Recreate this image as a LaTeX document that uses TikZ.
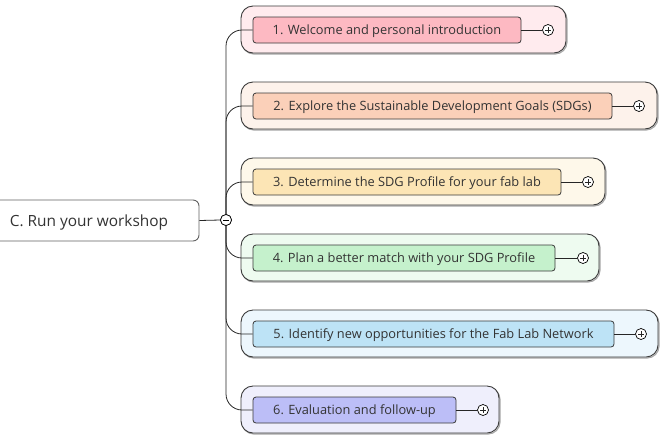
\documentclass[tikz,border=0pt]{standalone}
\usepackage{fontspec}
\setmainfont{Open Sans}
\definecolor{txt}{HTML}{333333}
\definecolor{edge}{HTML}{3A3A3A}
\definecolor{iA}{HTML}{FDB9C2}\definecolor{oA}{HTML}{FFEBEE}
\definecolor{iB}{HTML}{FBD0B9}\definecolor{oB}{HTML}{FDF2EB}
\definecolor{iC}{HTML}{FCE5B5}\definecolor{oC}{HTML}{FEF8EA}
\definecolor{iD}{HTML}{C5F1CC}\definecolor{oD}{HTML}{EEFBF0}
\definecolor{iE}{HTML}{BDE3F6}\definecolor{oE}{HTML}{EDF7FD}
\definecolor{iF}{HTML}{BCBEF7}\definecolor{oF}{HTML}{EFEFFC}
\begin{document}
\begin{tikzpicture}[x=1pt,y=-1pt,
  outerbox/.style={draw=edge, line width=0.9pt, rounded corners=12pt, inner sep=0pt, minimum height=47pt},
  innerbox/.style={draw=edge, line width=0.8pt, rounded corners=3pt, minimum height=26pt, inner sep=0pt,
    text height=12pt, text depth=3pt,
    font=\fontsize{12.8}{15}\selectfont, text=txt},
  rootbox/.style={draw=edge!80, fill=white, line width=0.9pt, rounded corners=6pt, minimum height=41pt, minimum width=220pt,
    inner sep=0pt, text height=15pt, text depth=4pt, font=\fontsize{15.4}{18}\selectfont, text=txt},
  knob/.style={circle, draw=black, fill=white, line width=0.7pt, minimum size=11pt, inner sep=0pt},
  conn/.style={draw=black!85, line width=0.8pt},
  shadowline/.style={draw=black!35, line width=1.2pt, rounded corners=12pt}]
\useasboundingbox (0,0) rectangle (663,440);

% root
\node[rootbox] (root) at (89,220.5) {C. Run your workshop};
\node[knob] (hub) at (226,220) {};

% groups: outer frames
\foreach \n/\r/\oc/\yy in {1/566/oA/29.5, 2/657/oB/105.5, 3/605/oC/181.5, 4/599/oD/257.5, 5/658/oE/333.5, 6/499/oF/409.5}{
  \draw[shadowline] (242,{\yy-22}) rectangle ({\r+1},{\yy+24.5});
  \node[outerbox, fill=\oc, minimum width={(\r-241)*1pt}] (outer\n) at ({(241+\r)/2},\yy) {};
}

% inner topic boxes
\node[innerbox, fill=iA, minimum width=268pt] (t1) at (387,30) {1. Welcome and personal introduction};
\node[innerbox, fill=iB, minimum width=359pt] (t2) at (432.5,106) {2. Explore the Sustainable Development Goals (SDGs)};
\node[innerbox, fill=iC, minimum width=308pt] (t3) at (407,182) {3. Determine the SDG Profile for your fab lab};
\node[innerbox, fill=iD, minimum width=302pt] (t4) at (404,258) {4. Plan a better match with your SDG Profile};
\node[innerbox, fill=iE, minimum width=361pt] (t5) at (433.5,334) {5. Identify new opportunities for the Fab Lab Network};
\node[innerbox, fill=iF, minimum width=203pt] (t6) at (354.5,410) {6. Evaluation and follow-up};

% expand knobs
\node[knob] (p1) at (548,30) {};
\node[knob] (p2) at (639,106) {};
\node[knob] (p3) at (588,182) {};
\node[knob] (p4) at (583,258) {};
\node[knob] (p5) at (641,334) {};
\node[knob] (p6) at (483,410) {};
\foreach \p in {p1,p2,p3,p4,p5,p6}{
  \draw[conn] (\p.center)++(-3,0) -- ++(6,0);
  \draw[conn] (\p.center)++(0,-3) -- ++(0,6);
}
\draw[conn] (t1.east) -- (p1.west);
\draw[conn] (t2.east) -- (p2.west);
\draw[conn] (t3.east) -- (p3.west);
\draw[conn] (t4.east) -- (p4.west);
\draw[conn] (t5.east) -- (p5.west);
\draw[conn] (t6.east) -- (p6.west);

% trunk connectors
\draw[conn] (root.east) -- (hub.west);
\foreach \t in {t1,t2,t3}{
  \draw[conn, rounded corners=16pt] (hub.north) |- (\t.west);
}
\foreach \t in {t4,t5,t6}{
  \draw[conn, rounded corners=16pt] (hub.south) |- (\t.west);
}
% redraw hub on top
\node[knob] at (hub) {};
\draw[line width=0.9pt] (hub.center)++(-3,0) -- ++(6,0);
\end{tikzpicture}
\end{document}
